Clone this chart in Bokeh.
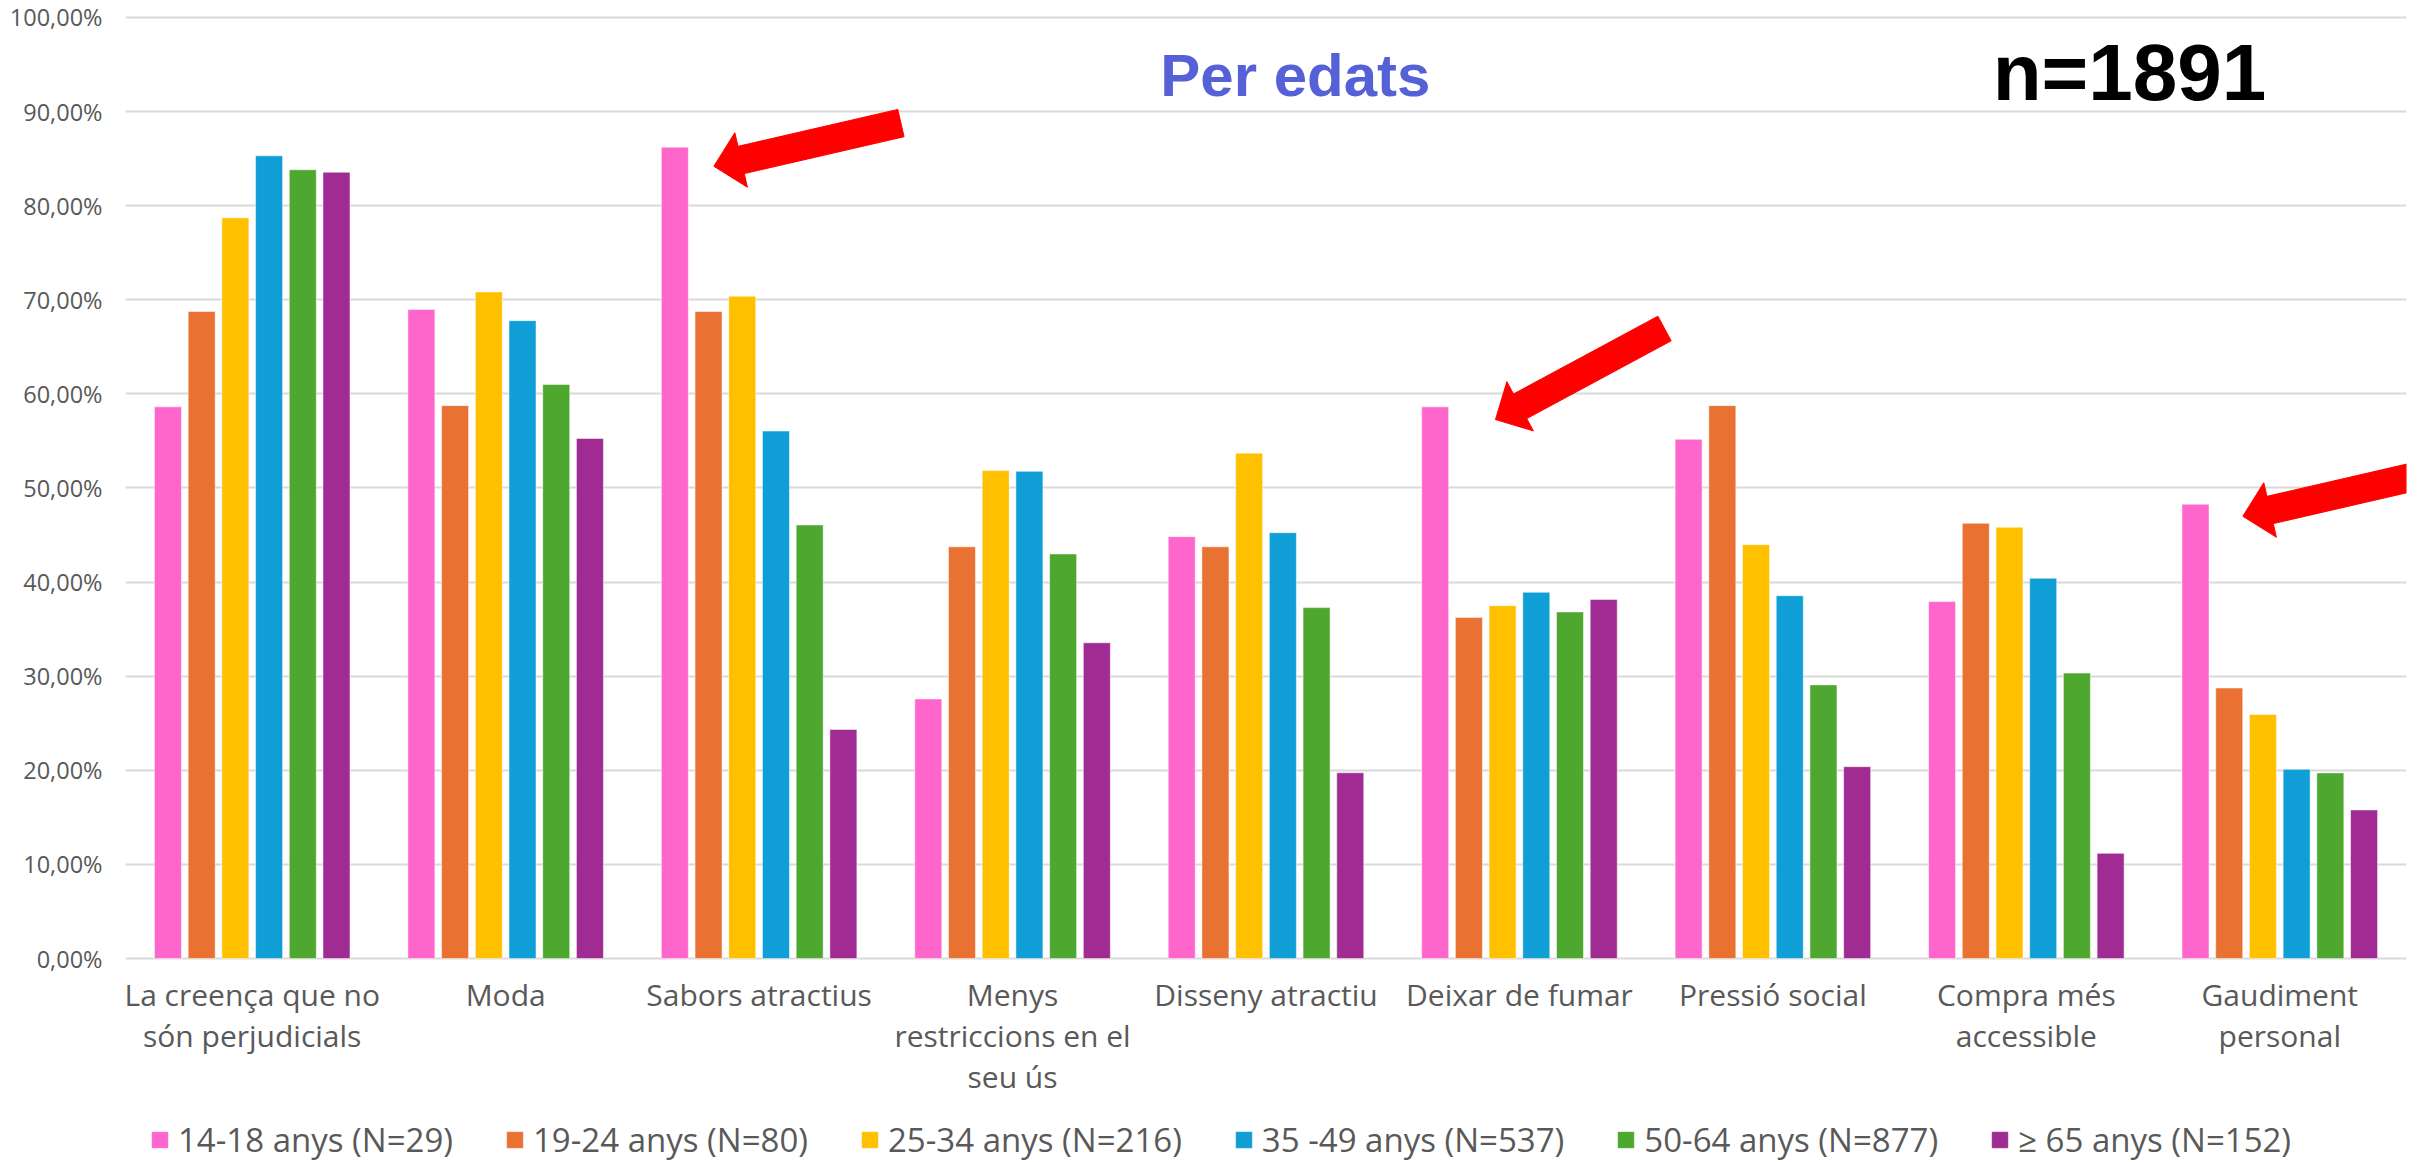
import math
from bokeh.plotting import figure
from bokeh.models import (ColumnDataSource, Range1d, FixedTicker, CustomJSTickFormatter,
                          Legend, LegendItem, Label)
from bokeh.core.properties import value
from bokeh.embed import file_html
from bokeh.resources import INLINE

# ---------------- data ----------------
categories = ["La creença que no són perjudicials", "Moda", "Sabors atractius",
              "Menys restriccions en el seu ús", "Disseny atractiu", "Deixar de fumar",
              "Pressió social", "Compra més accessible", "Gaudiment personal"]
category_labels = ["La creença que no\nsón perjudicials", "Moda", "Sabors atractius",
                   "Menys\nrestriccions en el\nseu ús", "Disseny atractiu", "Deixar de fumar",
                   "Pressió social", "Compra més\naccessible", "Gaudiment\npersonal"]
series_names = ["14-18 anys (N=29)", "19-24 anys (N=80)", "25-34 anys (N=216)",
                "35 -49 anys (N=537)", "50-64 anys (N=877)", "≥ 65 anys (N=152)"]
age_14_18 = [58.62, 68.97, 86.21, 27.59, 44.83, 58.62, 55.17, 37.93, 48.28]
age_19_24 = [68.75, 58.75, 68.75, 43.75, 43.75, 36.25, 58.75, 46.25, 28.75]
age_25_34 = [78.70, 70.83, 70.37, 51.85, 53.70, 37.50, 43.98, 45.83, 25.93]
age_35_49 = [85.29, 67.78, 56.05, 51.77, 45.25, 38.92, 38.55, 40.41, 20.11]
age_50_64 = [83.81, 61.00, 46.07, 42.99, 37.29, 36.83, 29.08, 30.33, 19.73]
age_65_plus = [83.55, 55.26, 24.34, 33.55, 19.74, 38.16, 20.39, 11.18, 15.79]
y_ticks = [0, 10, 20, 30, 40, 50, 60, 70, 80, 90, 100]
title_text = "Per edats"
sample_text = "n=1891"
highlighted_categories = [2, 5, 8]   # categories marked with red arrows

series_values = [age_14_18, age_19_24, age_25_34, age_35_49, age_50_64, age_65_plus]
colors = ["#FF66CC", "#E97132", "#FFC000", "#0F9ED5", "#4EA72E", "#A02B93"]

# ---------------- layout ----------------
# the plotting frame also hosts the category labels and the legend below the 0 % line
FRAME_W, FRAME_H = 2281, 1147
X0, X1 = 0, len(categories)
PX_Y = 9.412                       # pixels per percentage point
Y1 = 100.2
Y0 = Y1 - FRAME_H / PX_Y
PX_X = FRAME_W / (X1 - X0)
PITCH, BAR_W = 0.133, 0.1066
TXT = "#595959"

p = figure(frame_width=FRAME_W, frame_height=FRAME_H,
           x_range=Range1d(X0, X1), y_range=Range1d(Y0, Y1),
           output_backend="svg", toolbar_location=None,
           min_border_left=125, min_border_right=15,
           min_border_top=15, min_border_bottom=0)
p.outline_line_color = None
p.background_fill_color = "white"
p.border_fill_color = "white"

items = []
for k, (name, vals, col) in enumerate(zip(series_names, series_values, colors)):
    xs = [i + 0.5 + (k - 2.5) * PITCH for i in range(len(categories))]
    src = ColumnDataSource(dict(x=xs, top=vals, cat=categories))
    r = p.vbar(x="x", top="top", bottom=0, width=BAR_W, source=src,
               fill_color=col, line_color="white", line_alpha=0.5, line_width=1)
    items.append(LegendItem(label=name, renderers=[r]))

# axes
p.xaxis.visible = False
p.xgrid.visible = False
p.ygrid.grid_line_color = "#D9D9D9"
p.ygrid.grid_line_width = 2
p.yaxis.ticker = FixedTicker(ticks=y_ticks)
p.yaxis.formatter = CustomJSTickFormatter(code="return tick.toFixed(2).replace('.', ',') + '%';")
p.yaxis.axis_line_color = None
p.yaxis.major_tick_line_color = None
p.yaxis.major_tick_out = 0
p.yaxis.minor_tick_line_color = None
p.yaxis.major_label_standoff = 23
p.yaxis.major_label_text_font = "Open Sans"
p.yaxis.major_label_text_font_size = "23.5px"
p.yaxis.major_label_text_color = TXT

# category labels under the 0 % line
lab_src = ColumnDataSource(dict(x=[i + 0.5 for i in range(len(categories))],
                                y=[-1.67] * len(categories), text=category_labels))
p.text(x="x", y="y", text="text", source=lab_src, text_align="center",
       text_baseline="top", text_font=value("Open Sans"), text_font_size="30px",
       text_color=TXT, text_line_height=1.0)

# title texts
pink_x = [i + 0.5 - 2.5 * PITCH for i in range(len(categories))]
p.add_layout(Label(x=4.616, y=93.84, text=title_text, text_align="center",
                   text_baseline="alphabetic", text_font="Liberation Sans",
                   text_font_style="bold", text_font_size="60px", text_color="#5661D8"))
p.add_layout(Label(x=7.367, y=94.1, text=sample_text, text_align="left",
                   text_baseline="alphabetic", text_font="Liberation Sans",
                   text_font_style="bold", text_font_size="80px", text_color="black"))

# red block arrows pointing at the 14-18 bars of highlighted categories
arrow_tip_offsets = [(25.5, 19.1), (46.8, 12.7), (33.8, 12.1)]   # px from bar's top-right corner
arrow_angles = [13.0, 28.3, 13.0]                                 # degrees, tail direction above horizontal
ARROW_LEN, SHAFT_W, HEAD_W, HEAD_L = 192, 28, 56, 28
xs_list, ys_list = [], []
for c, (ox, oy), ang in zip(highlighted_categories, arrow_tip_offsets, arrow_angles):
    tip_x = pink_x[c] + BAR_W / 2 + ox / PX_X
    tip_y = age_14_18[c] - oy / PX_Y
    a = math.radians(ang)
    ux, uy = math.cos(a), math.sin(a)        # screen px, y up
    nx, ny = -uy, ux
    pts = [(0, 0),
           (ux * HEAD_L + nx * HEAD_W / 2, uy * HEAD_L + ny * HEAD_W / 2),
           (ux * HEAD_L + nx * SHAFT_W / 2, uy * HEAD_L + ny * SHAFT_W / 2),
           (ux * ARROW_LEN + nx * SHAFT_W / 2, uy * ARROW_LEN + ny * SHAFT_W / 2),
           (ux * ARROW_LEN - nx * SHAFT_W / 2, uy * ARROW_LEN - ny * SHAFT_W / 2),
           (ux * HEAD_L - nx * SHAFT_W / 2, uy * HEAD_L - ny * SHAFT_W / 2),
           (ux * HEAD_L - nx * HEAD_W / 2, uy * HEAD_L - ny * HEAD_W / 2)]
    xs_list.append([tip_x + px / PX_X for px, py in pts])
    ys_list.append([tip_y + py / PX_Y for px, py in pts])
p.patches(xs=xs_list, ys=ys_list, fill_color="#FF0000", line_color="#FF0000", line_width=1)

legend = Legend(items=items, orientation="horizontal", location=(24, 0),
                label_text_font="Open Sans", label_text_font_size="33px",
                label_text_color=TXT, glyph_width=21, glyph_height=21,
                label_standoff=8, spacing=51, padding=0, margin=0,
                border_line_color=None, background_fill_alpha=0)
p.add_layout(legend, "center")

open("out.html", "w").write(file_html(p, INLINE))
